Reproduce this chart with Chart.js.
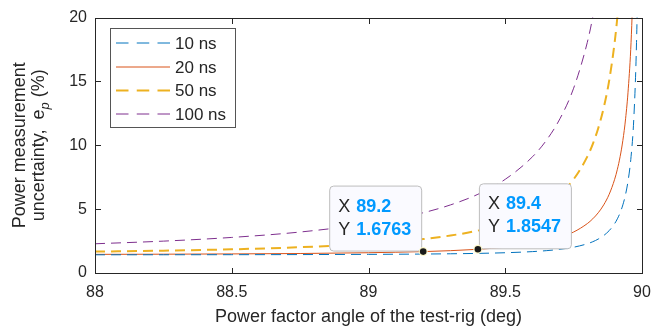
<!DOCTYPE html>
<html>
<head>
<meta charset="utf-8">
<script src="https://cdn.jsdelivr.net/npm/chart.js@4.4.1/dist/chart.umd.min.js"></script>
<style>
  html, body { margin: 0; padding: 0; background: #fff; }
</style>
</head>
<body>
<canvas id="c" width="662" height="326"></canvas>
<script>
// power factor angle (deg) and uncertainty e_p (%) for each delay
const angleDeg = [88, 88.25, 88.5, 88.75, 89, 89.1, 89.2, 89.3, 89.4, 89.5,
  89.6, 89.65, 89.7, 89.75, 89.8, 89.82, 89.84, 89.86, 89.88, 89.9,
  89.91, 89.92, 89.93, 89.94, 89.95, 89.96, 89.97, 89.98, 89.985, 89.99];
const ep10ns = [1.426, 1.429, 1.434, 1.443, 1.459, 1.470, 1.484, 1.505, 1.536, 1.587,
  1.676, 1.749, 1.855, 2.018, 2.289, 2.449, 2.658, 2.935, 3.317, 3.868,
  4.243, 4.717, 5.334, 6.164, 7.338, 9.110, 12.08, 18.06, 24.04, 36.03];
const ep20ns = [1.459, 1.473, 1.494, 1.527, 1.587, 1.625, 1.676, 1.749, 1.855, 2.018,
  2.289, 2.496, 2.786, 3.209, 3.868, 4.243, 4.717, 5.334, 6.164, 7.338,
  8.124, 9.110, 10.38, 12.08, 14.47, 18.06, 24.04, null, null, null];
const ep50ns = [1.676, 1.749, 1.855, 2.018, 2.289, 2.449, 2.658, 2.935, 3.317, 3.868,
  4.717, 5.334, 6.164, 7.338, 9.110, 10.10, 11.34, 12.94, 15.07, 18.06,
  20.05, 22.54, null, null, null, null, null, null, null, null];
const ep100ns = [2.289, 2.496, 2.786, 3.209, 3.868, 4.243, 4.717, 5.334, 6.164, 7.338,
  9.110, 10.38, 12.08, 14.47, 18.06, 20.05, 22.54, null, null, null,
  null, null, null, null, null, null, null, null, null, null];

const seriesNames = ['10 ns', '20 ns', '50 ns', '100 ns'];
const xTicks = [88, 88.5, 89, 89.5, 90];
const yTicks = [0, 5, 10, 15, 20];

// data tips on the 20 ns curve
const tipX = [89.2, 89.4];
const tipY = [1.6763, 1.8547];

const FONT = "'Liberation Sans', Arial, Helvetica, sans-serif";
const INK = '#262626';

const styles = [
  { color: '#0072BD', width: 1, dash: [10, 6], legendDash: [12.5, 8.25] },
  { color: '#D95319', width: 1, dash: [], legendDash: [] },
  { color: '#EDB120', width: 2, dash: [10, 6], legendDash: [12.5, 8.25] },
  { color: '#7E2F8E', width: 1, dash: [10, 6], legendDash: [12.5, 8.25] }
];

function points(ys) {
  return angleDeg.map((x, i) => ({ x, y: ys[i] }));
}

const allSeries = [ep10ns, ep20ns, ep50ns, ep100ns];

const datasets = allSeries.map((ys, i) => ({
  label: seriesNames[i],
  data: points(ys),
  borderColor: styles[i].color,
  borderWidth: styles[i].width,
  borderDash: styles[i].dash,
  pointRadius: 0,
  fill: false,
  cubicInterpolationMode: 'monotone',
  spanGaps: false
}));

function drawTip(ctx, px, py, vx, vy, side) {
  const w = 92, h = 65;
  const left = side === 'left' ? px - 2 - w : px + 1;
  const top = py - 1 - h;
  ctx.save();
  ctx.beginPath();
  ctx.roundRect(left + 0.5, top + 0.5, w, h, 4);
  ctx.fillStyle = '#fafaff';
  ctx.fill();
  ctx.strokeStyle = '#bdbdbd';
  ctx.lineWidth = 1;
  ctx.stroke();
  ctx.textBaseline = 'middle';
  ctx.textAlign = 'left';
  ctx.font = '18px ' + FONT;
  ctx.fillStyle = INK;
  ctx.fillText('X', left + 9, top + 21);
  ctx.fillText('Y', left + 9, top + 44);
  ctx.font = 'bold 18px ' + FONT;
  ctx.fillStyle = '#0099FF';
  ctx.fillText(String(vx), left + 27, top + 21);
  ctx.fillText(String(vy), left + 27, top + 44);
  // marker
  ctx.beginPath();
  ctx.arc(px, py, 4.5, 0, Math.PI * 2);
  ctx.fillStyle = '#fbf6c8';
  ctx.fill();
  ctx.beginPath();
  ctx.arc(px, py, 3.3, 0, Math.PI * 2);
  ctx.fillStyle = '#1a1a1a';
  ctx.fill();
  ctx.restore();
}

const decorations = {
  id: 'decorations',
  afterDatasetsDraw(chart) {
    const ctx = chart.ctx;
    const a = chart.chartArea;
    const xs = chart.scales.x, ys = chart.scales.y;
    const L = Math.round(a.left) + 0.5, R = Math.round(a.right) + 0.5;
    const T = Math.round(a.top) + 0.5, B = Math.round(a.bottom) + 0.5;

    ctx.save();
    ctx.strokeStyle = INK;
    ctx.lineWidth = 1;
    ctx.strokeRect(L, T, R - L, B - T);
    ctx.beginPath();
    xTicks.forEach(v => {
      const p = Math.round(xs.getPixelForValue(v)) + 0.5;
      ctx.moveTo(p, B); ctx.lineTo(p, B - 5.5);
      ctx.moveTo(p, T); ctx.lineTo(p, T + 5.5);
    });
    yTicks.forEach(v => {
      const p = Math.round(ys.getPixelForValue(v)) + 0.5;
      ctx.moveTo(L, p); ctx.lineTo(L + 5.5, p);
      ctx.moveTo(R, p); ctx.lineTo(R - 5.5, p);
    });
    ctx.stroke();

    // legend box
    const lx = 110.5, ly = 28.5, lw = 125, lh = 99;
    ctx.fillStyle = '#fff';
    ctx.fillRect(lx, ly, lw, lh);
    ctx.strokeStyle = '#555';
    ctx.strokeRect(lx, ly, lw, lh);
    const rows = [43, 67, 90.5, 114];
    ctx.font = '17px ' + FONT;
    ctx.textBaseline = 'middle';
    ctx.textAlign = 'left';
    seriesNames.forEach((name, i) => {
      const st = styles[i];
      ctx.beginPath();
      ctx.setLineDash(st.legendDash);
      ctx.strokeStyle = st.color;
      ctx.lineWidth = st.width;
      ctx.moveTo(116, rows[i]);
      ctx.lineTo(170, rows[i]);
      ctx.stroke();
      ctx.setLineDash([]);
      ctx.fillStyle = INK;
      ctx.fillText(name, 175, rows[i] + 1);
    });

    // data tips
    tipX.forEach((vx, i) => {
      const px = xs.getPixelForValue(vx);
      const py = ys.getPixelForValue(tipY[i]);
      drawTip(ctx, px, py, vx, tipY[i], i === 0 ? 'left' : 'right');
    });

    // axis titles
    ctx.fillStyle = INK;
    ctx.font = '18px ' + FONT;
    ctx.textAlign = 'center';
    ctx.textBaseline = 'alphabetic';
    ctx.fillText('Power factor angle of the test-rig (deg)', (a.left + a.right) / 2, 322);

    const cy = (a.top + a.bottom) / 2;
    ctx.save();
    ctx.translate(25, cy);
    ctx.rotate(-Math.PI / 2);
    ctx.fillText('Power measurement', 0, 0);
    ctx.restore();

    ctx.save();
    ctx.translate(44, cy);
    ctx.rotate(-Math.PI / 2);
    ctx.textAlign = 'left';
    const big = '18px ' + FONT, sub = 'italic 13px ' + FONT;
    const parts = [
      { t: 'uncertainty,  e', f: big, dy: 0 },
      { t: 'p', f: sub, dy: 5 },
      { t: ' (%)', f: big, dy: 0 }
    ];
    let total = 0;
    parts.forEach(p => { ctx.font = p.f; p.w = ctx.measureText(p.t).width; total += p.w; });
    let x = -total / 2;
    parts.forEach(p => { ctx.font = p.f; ctx.fillText(p.t, x, p.dy); x += p.w; });
    ctx.restore();

    ctx.restore();
  }
};

new Chart(document.getElementById('c'), {
  type: 'line',
  data: { datasets },
  options: {
    responsive: false,
    devicePixelRatio: 1,
    animation: false,
    layout: { padding: { left: 0, right: 20, top: 16, bottom: 0 } },
    plugins: { legend: { display: false }, tooltip: { enabled: false } },
    scales: {
      x: {
        type: 'linear',
        min: 88, max: 90,
        afterFit(s) { s.height = 53; },
        afterBuildTicks(s) { s.ticks = xTicks.map(v => ({ value: v })); },
        grid: { display: false, drawTicks: false },
        border: { display: false },
        ticks: {
          padding: 10,
          color: INK,
          font: { family: FONT, size: 16 },
          callback: v => String(v)
        }
      },
      y: {
        min: 0, max: 20,
        afterFit(s) { s.width = 95; },
        afterBuildTicks(s) { s.ticks = yTicks.map(v => ({ value: v })); },
        grid: { display: false, drawTicks: false },
        border: { display: false },
        ticks: {
          padding: 8,
          color: INK,
          font: { family: FONT, size: 16 },
          callback: v => String(v)
        }
      }
    }
  },
  plugins: [decorations]
});
</script>
</body>
</html>
